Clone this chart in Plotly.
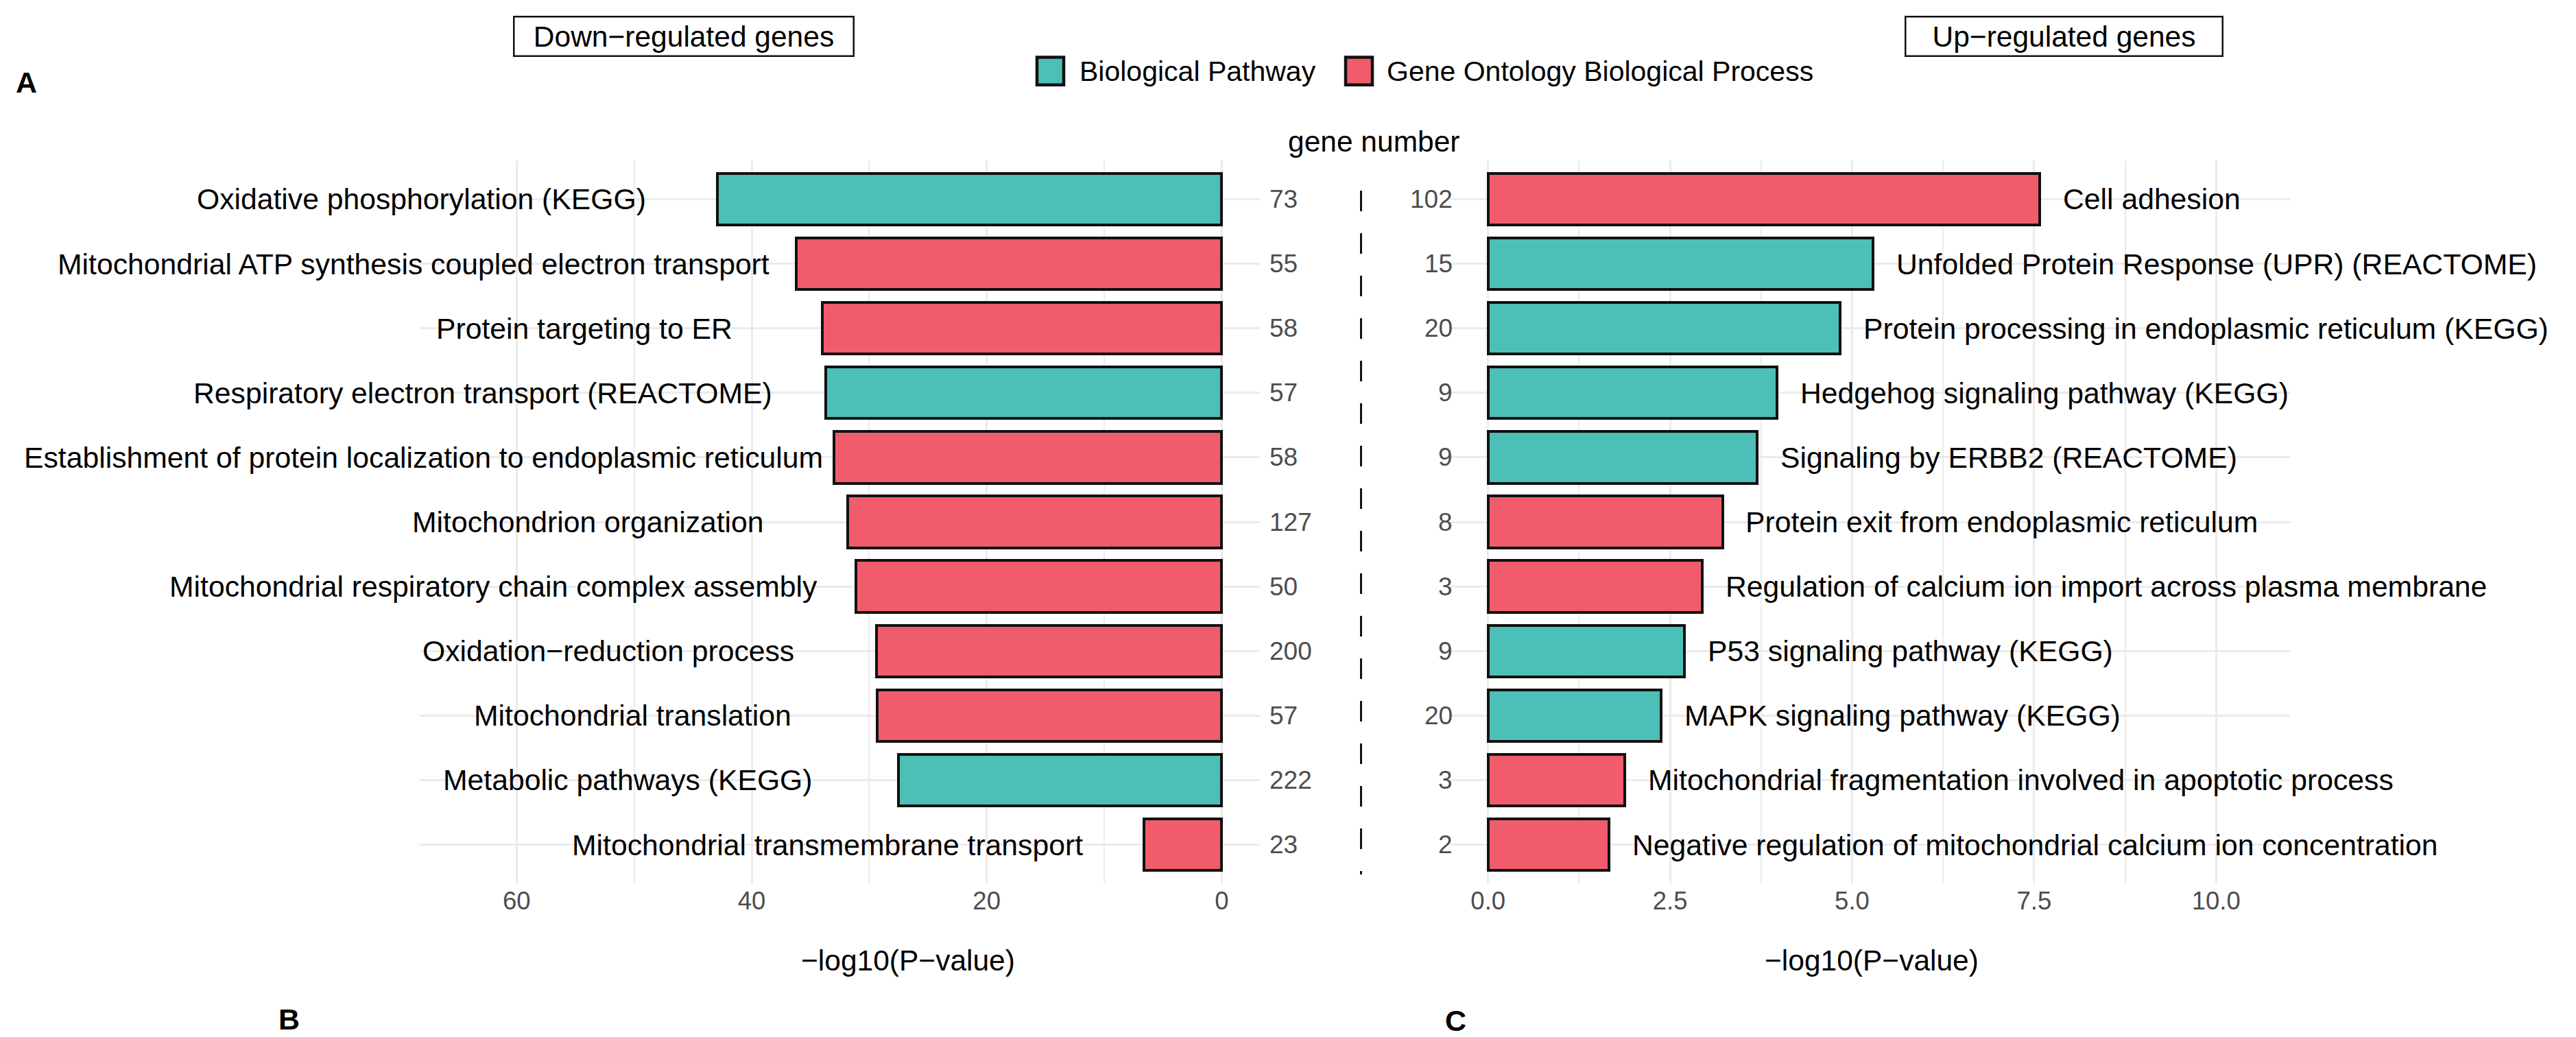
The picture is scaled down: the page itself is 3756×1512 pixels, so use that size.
import plotly.graph_objects as go

W, H = 3756, 1512
FONT = "Liberation Sans, Arial, sans-serif"

# ---------------- data ----------------
down_terms = [
    "Oxidative phosphorylation (KEGG)",
    "Mitochondrial ATP synthesis coupled electron transport",
    "Protein targeting to ER",
    "Respiratory electron transport (REACTOME)",
    "Establishment of protein localization to endoplasmic reticulum",
    "Mitochondrion organization",
    "Mitochondrial respiratory chain complex assembly",
    "Oxidation\u2212reduction process",
    "Mitochondrial translation",
    "Metabolic pathways (KEGG)",
    "Mitochondrial transmembrane transport",
]
down_logp = [42.9, 36.2, 34.0, 33.7, 33.0, 31.8, 31.1, 29.4, 29.3, 27.5, 6.6]
down_genes = [73, 55, 58, 57, 58, 127, 50, 200, 57, 222, 23]
down_type = ["Biological Pathway", "Gene Ontology Biological Process", "Gene Ontology Biological Process",
             "Biological Pathway", "Gene Ontology Biological Process", "Gene Ontology Biological Process",
             "Gene Ontology Biological Process", "Gene Ontology Biological Process",
             "Gene Ontology Biological Process", "Biological Pathway", "Gene Ontology Biological Process"]

up_terms = [
    "Cell adhesion",
    "Unfolded Protein Response (UPR) (REACTOME)",
    "Protein processing in endoplasmic reticulum (KEGG)",
    "Hedgehog signaling pathway (KEGG)",
    "Signaling by ERBB2 (REACTOME)",
    "Protein exit from endoplasmic reticulum",
    "Regulation of calcium ion import across plasma membrane",
    "P53 signaling pathway (KEGG)",
    "MAPK signaling pathway (KEGG)",
    "Mitochondrial fragmentation involved in apoptotic process",
    "Negative regulation of mitochondrial calcium ion concentration",
]
up_logp = [7.58, 5.29, 4.84, 3.97, 3.70, 3.22, 2.94, 2.70, 2.38, 1.88, 1.66]
up_genes = [102, 15, 20, 9, 9, 8, 3, 9, 20, 3, 2]
up_type = ["Gene Ontology Biological Process", "Biological Pathway", "Biological Pathway",
           "Biological Pathway", "Biological Pathway", "Gene Ontology Biological Process",
           "Gene Ontology Biological Process", "Biological Pathway", "Biological Pathway",
           "Gene Ontology Biological Process", "Gene Ontology Biological Process"]

type_order = ["Biological Pathway", "Gene Ontology Biological Process"]
type_colors = {"Biological Pathway": "#4CBFB6", "Gene Ontology Biological Process": "#F05C6B"}

# ---------------- helpers ----------------
def px(x):
    return x / W

def py(y):
    return 1 - y / H

OUTLINE = "#111111"
GRID = "#EBEBEB"
TICK_COL = "#4D4D4D"
LAB = 42.7

fig = go.Figure()

fig.add_trace(go.Bar(
    x=down_logp, y=down_terms, orientation="h", width=0.8,
    marker=dict(color=[type_colors[t] for t in down_type], line=dict(color=OUTLINE, width=4)),
    xaxis="x", yaxis="y", showlegend=False, hoverinfo="x+y",
))
fig.add_trace(go.Bar(
    x=up_logp, y=up_terms, orientation="h", width=0.8,
    marker=dict(color=[type_colors[t] for t in up_type], line=dict(color=OUTLINE, width=4)),
    xaxis="x2", yaxis="y2", showlegend=False, hoverinfo="x+y",
))

ann = []
# term labels, left panel: right-aligned beyond the bar end
for term, v in zip(down_terms, down_logp):
    ann.append(dict(x=v + 11.5, y=term, xref="x", yref="y", text=term, showarrow=False,
                    xanchor="right", xshift=2.96 * len(term),
                    font=dict(family=FONT, size=LAB, color="#000000")))
# term labels, right panel
for term, v in zip(up_terms, up_logp):
    ann.append(dict(x=v + 0.3, y=term, xref="x2", yref="y2", text=term, showarrow=False,
                    xanchor="left", font=dict(family=FONT, size=LAB, color="#000000")))
# gene numbers
for term, g in zip(down_terms, down_genes):
    ann.append(dict(x=px(1849), y=term, xref="paper", yref="y", text=str(g), showarrow=False,
                    xanchor="left", font=dict(family=FONT, size=37, color=TICK_COL)))
for term, g in zip(up_terms, up_genes):
    ann.append(dict(x=px(2120), y=term, xref="paper", yref="y2", text=str(g), showarrow=False,
                    xanchor="right", font=dict(family=FONT, size=37, color=TICK_COL)))

# titles
ann.append(dict(x=px(2003), y=py(206), xref="paper", yref="paper", text="gene number",
                showarrow=False, xanchor="center", yanchor="middle",
                font=dict(family=FONT, size=42.5, color="#000000")))
ann.append(dict(x=px(1323.5), y=py(1400), xref="paper", yref="paper", text="\u2212log10(P\u2212value)",
                showarrow=False, xanchor="center", yanchor="middle",
                font=dict(family=FONT, size=42.5, color="#000000")))
ann.append(dict(x=px(2728.6), y=py(1400), xref="paper", yref="paper", text="\u2212log10(P\u2212value)",
                showarrow=False, xanchor="center", yanchor="middle",
                font=dict(family=FONT, size=42.5, color="#000000")))

# boxed panel titles
for txt, cx, bw in [("Down\u2212regulated genes", 997, 493), ("Up\u2212regulated genes", 3009.5, 460)]:
    ann.append(dict(x=px(cx), y=py(52.8), xref="paper", yref="paper", text=txt, showarrow=False,
                    xanchor="center", yanchor="middle", width=bw, height=55, borderpad=0,
                    bordercolor="#111111", borderwidth=2.5, bgcolor="white",
                    font=dict(family=FONT, size=42.5, color="#000000")))

# panel letters
for txt, cx, cy in [("A", 38, 120), ("B", 421, 1486), ("C", 2122, 1488)]:
    ann.append(dict(x=px(cx), y=py(cy), xref="paper", yref="paper", text="<b>%s</b>" % txt,
                    showarrow=False, xanchor="center", yanchor="middle", height=36,
                    font=dict(family=FONT, size=43, color="#000000")))

# manual legend
shapes = []
legend_keys = [(1512, 1572), (1962, 2020)]
for (kx, tx), name in zip(legend_keys, type_order):
    shapes.append(dict(type="rect", xref="paper", yref="paper",
                       x0=px(kx), x1=px(kx + 39), y0=py(83.6), y1=py(123.8),
                       fillcolor=type_colors[name], line=dict(color=OUTLINE, width=4.5)))
    ann.append(dict(x=px(tx), y=py(103.7), xref="paper", yref="paper", text=name, showarrow=False,
                    xanchor="left", yanchor="middle", font=dict(family=FONT, size=41, color="#000000")))

# dashed separator
shapes.append(dict(type="line", xref="paper", yref="paper", x0=px(1984.5), x1=px(1984.5),
                   y0=py(278), y1=py(1275), line=dict(color="#111111", width=3, dash="30px,32px")))

y_dom = [py(1288), py(234)]
fig.update_layout(
    width=W, height=H, autosize=False,
    margin=dict(l=0, r=0, t=0, b=0),
    paper_bgcolor="white", plot_bgcolor="white",
    showlegend=False, bargap=0,
    font=dict(family=FONT),
    xaxis=dict(domain=[px(612), px(1837)], range=[68.25, -3.25], anchor="y",
               tickmode="linear", tick0=0, dtick=20, ticks="", showline=False, zeroline=False,
               showgrid=True, gridcolor=GRID, gridwidth=3.2,
               minor=dict(tickmode="linear", tick0=0, dtick=10, showgrid=True, gridcolor=GRID, gridwidth=1.6),
               tickfont=dict(family=FONT, size=36.5, color=TICK_COL)),
    yaxis=dict(domain=y_dom, anchor="x", categoryorder="array", categoryarray=down_terms,
               range=[10.6, -0.6], showticklabels=False, ticks="", showgrid=True,
               gridcolor=GRID, gridwidth=3.3, zeroline=False, showline=False),
    xaxis2=dict(domain=[px(2114), px(3340)], range=[-0.525, 11.025], anchor="y2",
                tickmode="linear", tick0=0, dtick=2.5, tickformat=".1f", ticks="", showline=False,
                zeroline=False, showgrid=True, gridcolor=GRID, gridwidth=3.2,
                minor=dict(tickmode="linear", tick0=0, dtick=1.25, showgrid=True, gridcolor=GRID, gridwidth=1.6),
                tickfont=dict(family=FONT, size=36.5, color=TICK_COL)),
    yaxis2=dict(domain=y_dom, anchor="x2", categoryorder="array", categoryarray=up_terms,
                range=[10.6, -0.6], showticklabels=False, ticks="", showgrid=True,
                gridcolor=GRID, gridwidth=3.3, zeroline=False, showline=False),
    annotations=ann,
    shapes=shapes,
)

fig.write_html(
    "out.html",
    config={"displayModeBar": False},
    post_script="document.body.style.margin='0px';document.body.style.overflow='hidden';",
)
